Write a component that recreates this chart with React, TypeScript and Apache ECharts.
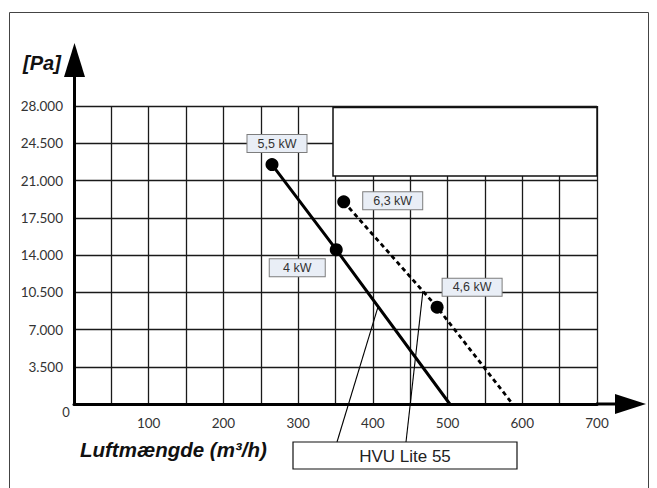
import React, { useEffect, useRef } from "react";
import * as echarts from "echarts";

// ---- data ----
const yTicks = [0, 3500, 7000, 10500, 14000, 17500, 21000, 24500, 28000];
const xTickLabels = [100, 200, 300, 400, 500, 600, 700];
const solidPoints: number[][] = [
  [265, 22500],
  [351, 14500],
  [503, 0],
];
const solidLabels = ["5,5 kW", "4 kW", ""];
const dashedPoints: number[][] = [
  [361, 19000],
  [486, 9100],
  [587, 0],
];
const dashedLabels = ["6,3 kW", "4,6 kW", ""];
const modelName = "HVU Lite 55";
const yAxisName = "[Pa]";
const xAxisName = "Luftmængde (m³/h)";
const leaderTargets: number[][] = [
  [407, 9150],
  [467, 10600],
];

const labelOffsets: Record<string, number[]> = {
  "5,5 kW": [5, -21],
  "4 kW": [-39, 18],
  "6,3 kW": [49, -1],
  "4,6 kW": [35, -20],
};

const fmtY = (v: number) =>
  v === 0 ? "" : `${Math.floor(v / 1000)}.${String(v % 1000).padStart(3, "0")}`;

function buildData(points: number[][], labels: string[]) {
  return points.map((p, i) => {
    const txt = labels[i];
    if (!txt) return { value: p, symbol: "none" };
    return {
      value: p,
      symbol: "circle",
      symbolSize: 13,
      label: {
        show: true,
        position: "inside",
        formatter: txt,
        offset: labelOffsets[txt],
        width: txt === "4 kW" ? 53 : 57,
        align: "center",
        verticalAlign: "middle",
        backgroundColor: "#e9eef6",
        borderColor: "#7d7d7d",
        borderWidth: 1,
        padding: [2, 1],
        fontFamily: "Liberation Sans, Arial, sans-serif",
        fontSize: 12.5,
        color: "#333",
      },
    };
  });
}

export default function App() {
  const ref = useRef<HTMLDivElement>(null);
  useEffect(() => {
    if (!ref.current) return;
    const chart = echarts.init(ref.current, undefined, { renderer: "svg" });
    const baseGraphic: any[] = [
      {
        id: "frame",
        type: "rect",
        z: 1,
        shape: { x: 9.5, y: 12.5, width: 639, height: 495 },
        style: { fill: "none", stroke: "#444", lineWidth: 1 },
      },
      {
        id: "legendBox",
        type: "rect",
        z: 5,
        shape: { x: 333, y: 107.5, width: 264, height: 68.5 },
        style: { fill: "#fff", stroke: "#111", lineWidth: 1.5 },
      },
      {
        id: "yExt",
        type: "line",
        z: 5,
        shape: { x1: 74.5, y1: 107, x2: 74.5, y2: 74 },
        style: { stroke: "#000", lineWidth: 3 },
      },
      {
        id: "yArrow",
        type: "polygon",
        z: 5,
        shape: { points: [[74.5, 43], [64, 77], [85, 77]] },
        style: { fill: "#000" },
      },
      {
        id: "xExt",
        type: "line",
        z: 5,
        shape: { x1: 596, y1: 404, x2: 616, y2: 404 },
        style: { stroke: "#000", lineWidth: 3 },
      },
      {
        id: "xArrow",
        type: "polygon",
        z: 5,
        shape: { points: [[646, 404], [615, 394], [615, 414]] },
        style: { fill: "#000" },
      },
      {
        id: "yName",
        type: "text",
        z: 5,
        x: 42,
        y: 63,
        style: {
          text: yAxisName,
          fontFamily: "Liberation Sans, Arial, sans-serif",
          fontWeight: "bold",
          fontStyle: "italic",
          fontSize: 20,
          fill: "#111",
          align: "center",
          verticalAlign: "middle",
        },
      },
      {
        id: "zeroLbl",
        type: "text",
        z: 5,
        x: 66,
        y: 412,
        style: {
          text: "0",
          fontFamily: "Lato, sans-serif",
          fontSize: 13,
          fill: "#333",
          align: "center",
          verticalAlign: "middle",
        },
      },
      {
        id: "xName",
        type: "text",
        z: 5,
        x: 80,
        y: 449,
        style: {
          text: xAxisName,
          fontFamily: "Liberation Sans, Arial, sans-serif",
          fontWeight: "bold",
          fontStyle: "italic",
          fontSize: 20.5,
          fill: "#111",
          align: "left",
          verticalAlign: "middle",
        },
      },
      {
        id: "modelBox",
        type: "rect",
        z: 5,
        shape: { x: 293, y: 442, width: 224, height: 27 },
        style: { fill: "#fff", stroke: "#111", lineWidth: 1.2 },
      },
      {
        id: "modelText",
        type: "text",
        z: 6,
        x: 405,
        y: 456,
        style: {
          text: modelName,
          fontFamily: "Liberation Sans, Arial, sans-serif",
          fontSize: 17,
          fill: "#222",
          align: "center",
          verticalAlign: "middle",
        },
      },
    ];

    const option: any = {
      animation: false,
      backgroundColor: "#fff",
      grid: { left: 74, top: 106, width: 523, height: 298, containLabel: false },
      xAxis: {
        type: "value",
        min: 0,
        max: 700,
        interval: 50,
        axisLine: { show: true, lineStyle: { color: "#000", width: 3 } },
        axisTick: { show: false },
        splitLine: { show: true, lineStyle: { color: "#1a1a1a", width: 1.3 } },
        axisLabel: {
          margin: 12,
          fontFamily: "Lato, sans-serif",
          fontSize: 13.5,
          color: "#333",
          formatter: (v: number) => (xTickLabels.includes(v) ? String(v) : ""),
        },
      },
      yAxis: {
        type: "value",
        min: yTicks[0],
        max: yTicks[yTicks.length - 1],
        interval: 3500,
        axisLine: { show: true, lineStyle: { color: "#000", width: 3 } },
        axisTick: { show: false },
        splitLine: { show: true, lineStyle: { color: "#1a1a1a", width: 1.3 } },
        axisLabel: {
          margin: 11,
          fontFamily: "Lato, sans-serif",
          fontSize: 13.5,
          color: "#333",
          formatter: fmtY,
        },
      },
      series: [
        {
          type: "line",
          z: 8,
          data: buildData(solidPoints, solidLabels),
          lineStyle: { color: "#000", width: 3 },
          itemStyle: { color: "#000" },
          showAllSymbol: true,
        },
        {
          type: "line",
          z: 8,
          data: buildData(dashedPoints, dashedLabels),
          lineStyle: { color: "#000", width: 2.8, type: [4.5, 3.5] },
          itemStyle: { color: "#000" },
          showAllSymbol: true,
        },
      ],
      graphic: baseGraphic,
    };
    chart.setOption(option);

    const anchors = [337, 406];
    const leaders = leaderTargets.map((t, i) => {
      const p = chart.convertToPixel({ gridIndex: 0 }, t) as number[];
      return {
        id: "leader" + i,
        type: "line",
        z: 4,
        shape: { x1: anchors[i], y1: 442, x2: p[0], y2: p[1] },
        style: { stroke: "#000", lineWidth: 1.1 },
      };
    });
    chart.setOption({ graphic: [...baseGraphic, ...leaders] });

    return () => chart.dispose();
  }, []);
  return (
    <div
      ref={ref}
      style={{ position: "fixed", left: 0, top: 0, width: 657, height: 488 }}
    />
  );
}
